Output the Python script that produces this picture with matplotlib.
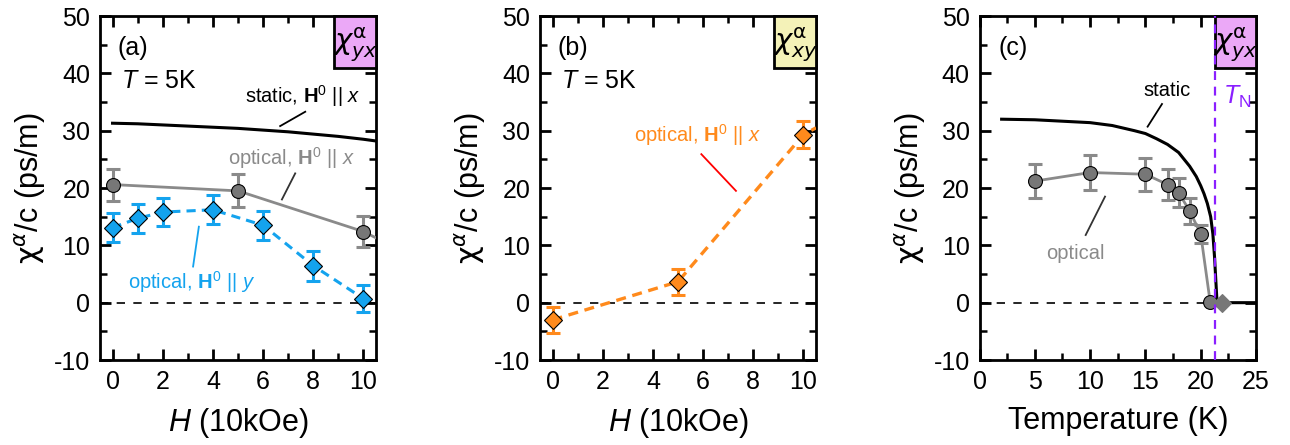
import matplotlib
matplotlib.use("Agg")
import matplotlib.pyplot as plt
from matplotlib.patches import Rectangle
from matplotlib.ticker import MultipleLocator

plt.rcParams['font.family'] = ['Liberation Sans', 'DejaVu Sans']
plt.rcParams['mathtext.fontset'] = 'custom'
plt.rcParams['mathtext.rm'] = 'Liberation Sans'
plt.rcParams['mathtext.it'] = 'Liberation Sans:italic'
plt.rcParams['mathtext.bf'] = 'Liberation Sans:bold'
plt.rcParams['axes.unicode_minus'] = False

# ---------------- data ----------------
# panel (a)
a_static_H = [0, 1, 2, 3, 4, 5, 6, 7, 8, 9, 10, 10.5]
a_static_chi = [31.3, 31.2, 31.0, 30.8, 30.6, 30.4, 30.1, 29.8, 29.4, 29.0, 28.5, 28.2]
a_optx_H = [0, 5, 10]
a_optx_chi = [20.6, 19.5, 12.4]
a_optx_err = [2.8, 2.9, 2.7]
a_optx_line_H = [0, 5, 10, 10.5]
a_optx_line_chi = [20.6, 19.5, 12.4, 11.3]
a_opty_H = [0, 1, 2, 4, 6, 8, 10]
a_opty_chi = [13.1, 14.7, 15.8, 16.2, 13.5, 6.45, 0.7]
a_opty_err = [2.6, 2.5, 2.5, 2.5, 2.5, 2.6, 2.4]

# panel (b)
b_optx_H = [0, 5, 10]
b_optx_chi = [-3.0, 3.65, 29.3]
b_optx_err = [2.3, 2.3, 2.3]
b_line_H = [0, 5, 10, 10.5]
b_line_chi = [-3.0, 3.65, 29.3, 30.5]

# panel (c)
c_static_T = [2, 5, 8, 10, 12, 14, 15, 16, 17, 18, 19, 19.6, 20, 20.3, 20.6, 20.9, 21.1,
              21.25, 21.35, 21.45, 21.5, 22, 25]
c_static_chi = [32.0, 31.9, 31.6, 31.4, 30.9, 30.0, 29.5, 28.6, 27.6, 26.2, 23.8, 22.0, 20.4,
                19.0, 17.3, 15.0, 12.0, 8.0, 4.5, 1.0, 0.0, 0.0, 0.0]
c_opt_T = [5, 10, 15, 17, 18, 19, 20, 20.85]
c_opt_chi = [21.2, 22.7, 22.4, 20.6, 19.2, 16.0, 12.0, 0.2]
c_opt_err = [2.9, 3.0, 2.9, 2.7, 2.5, 2.2, 1.6, 0.0]
c_above_T = [21.9]
c_above_chi = [-0.1]
T_N = 21.25

x_ticks_H = [0, 2, 4, 6, 8, 10]
y_ticks = [-10, 0, 10, 20, 30, 40, 50]

# ---------------- style ----------------
BLUE = '#14A3EE'
ORANGE = '#FF8A1C'
GRAY_M = '#777777'
GRAY_L = '#8A8A8A'
PINK = '#EBA8F7'
YELLOW = '#F4F2B8'
PURPLE = '#8A1FFF'

fig = plt.figure(figsize=(12.9, 4.45), dpi=100)
W, Hh = 1290, 445
def axpos(l, r):
    return [l / W, (Hh - 360) / Hh, (r - l) / W, 344 / Hh]

axA = fig.add_axes(axpos(100, 376))
axB = fig.add_axes(axpos(540, 816))
axC = fig.add_axes(axpos(979.5, 1256))

def style(ax, xmaj, xmin):
    ax.set_ylim(-10, 50)
    ax.set_yticks(y_ticks)
    ax.yaxis.set_minor_locator(MultipleLocator(5))
    ax.xaxis.set_major_locator(MultipleLocator(xmaj))
    ax.xaxis.set_minor_locator(MultipleLocator(xmin))
    ax.tick_params(which='both', direction='in', top=True, right=True, labelsize=18, pad=7)
    ax.tick_params(which='major', length=8, width=2.0)
    ax.tick_params(which='minor', length=5, width=1.8)
    for s in ax.spines.values():
        s.set_linewidth(2.0)
    ax.axhline(0, color='black', lw=1.2, dashes=(5, 5), zorder=1)
    ax.set_ylabel(r'$\mathrm{\chi}^{\alpha}$/c (ps/m)', fontsize=22, labelpad=4,
                  math_fontfamily='dejavusans')

def chibox(ax, x0, color, label):
    ax.add_patch(Rectangle((x0, 0.848), 1 - x0, 0.152, transform=ax.transAxes,
                           facecolor=color, edgecolor='black', lw=2.0, zorder=5, clip_on=False))
    ax.text((x0 + 1) / 2, 0.915, label, transform=ax.transAxes, ha='center', va='center',
            fontsize=21, zorder=6, math_fontfamily='dejavusans')

ebkw = dict(capsize=5, elinewidth=2.2, capthick=2.2)

# ---------------- panel (a) ----------------
style(axA, 2, 1)
axA.set_xlim(-0.5, 10.5)
axA.set_xticks(x_ticks_H)
axA.set_xlabel(r'$H$ (10kOe)', fontsize=22, labelpad=9)
axA.plot(a_static_H, a_static_chi, color='black', lw=2.2, zorder=3)
axA.plot(a_optx_line_H, a_optx_line_chi, color=GRAY_L, lw=2.0, zorder=3)
axA.errorbar(a_optx_H, a_optx_chi, yerr=a_optx_err, fmt='none', ecolor=GRAY_L, zorder=3, **ebkw)
axA.plot(a_optx_H, a_optx_chi, 'o', ms=10, mfc=GRAY_M, mec='black', mew=0.8, zorder=4)
axA.plot(a_opty_H, a_opty_chi, color=BLUE, lw=2.2, dashes=(3, 2), zorder=3)
axA.errorbar(a_opty_H, a_opty_chi, yerr=a_opty_err, fmt='none', ecolor=BLUE, zorder=3, **ebkw)
axA.plot(a_opty_H, a_opty_chi, 'D', ms=9, mfc=BLUE, mec='black', mew=0.8, zorder=4)
axA.text(0.2, 44.4, '(a)', fontsize=18, va='center')
axA.text(0.35, 38.7, r'$T$ = 5K', fontsize=18, va='center')
axA.text(5.28, 36.1, r'static, $\mathbf{H}^0$ || $x$', fontsize=14.5, va='center')
axA.plot([7.68, 6.68], [33.3, 30.8], color='black', lw=1.3)
axA.text(4.61, 25.2, r'optical, $\mathbf{H}^0$ || $x$', fontsize=14.5, va='center', color=GRAY_L)
axA.plot([7.28, 6.75], [22.55, 18.0], color='#333333', lw=1.3)
axA.text(0.61, 3.65, r'optical, $\mathbf{H}^0$ || $y$', fontsize=14.5, va='center', color=BLUE)
axA.plot([3.44, 3.21], [13.25, 6.3], color=BLUE, lw=1.3)
chibox(axA, 0.848, PINK, r'$\chi^{\mathrm{\alpha}}_{yx}$')

# ---------------- panel (b) ----------------
style(axB, 2, 1)
axB.set_xlim(-0.5, 10.5)
axB.set_xticks(x_ticks_H)
axB.set_xlabel(r'$H$ (10kOe)', fontsize=22, labelpad=9)
axB.plot(b_line_H, b_line_chi, color=ORANGE, lw=2.4, dashes=(3, 2), zorder=3)
axB.errorbar(b_optx_H, b_optx_chi, yerr=b_optx_err, fmt='none', ecolor=ORANGE, zorder=3, **ebkw)
axB.plot(b_optx_H, b_optx_chi, 'D', ms=9, mfc=ORANGE, mec='black', mew=0.8, zorder=4)
axB.text(0.2, 44.4, '(b)', fontsize=18, va='center')
axB.text(0.33, 38.7, r'$T$ = 5K', fontsize=18, va='center')
axB.text(3.23, 29.2, r'optical, $\mathbf{H}^0$ || $x$', fontsize=14.5, va='center', color=ORANGE)
axB.plot([5.93, 7.31], [25.9, 19.5], color='red', lw=1.3)
chibox(axB, 0.849, YELLOW, r'$\chi^{\mathrm{\alpha}}_{xy}$')

# ---------------- panel (c) ----------------
style(axC, 5, 2.5)
axC.set_xlim(0, 25)
axC.set_xlabel('Temperature (K)', fontsize=22, labelpad=9)
axC.plot(c_static_T, c_static_chi, color='black', lw=2.2, zorder=3)
axC.plot(c_opt_T + c_above_T, c_opt_chi + c_above_chi, color=GRAY_L, lw=2.0, zorder=3)
axC.errorbar(c_opt_T[:-1], c_opt_chi[:-1], yerr=c_opt_err[:-1], fmt='none', ecolor=GRAY_L,
             zorder=3, **ebkw)
axC.plot(c_opt_T, c_opt_chi, 'o', ms=10, mfc=GRAY_M, mec='black', mew=0.8, zorder=4)
axC.plot(c_above_T, c_above_chi, 'D', ms=9, mfc=GRAY_M, mec=GRAY_M, mew=0.8, zorder=4)
axC.axvline(T_N, color=PURPLE, lw=1.6, dashes=(4, 3), zorder=7)
axC.text(1.7, 44.4, '(c)', fontsize=18, va='center')
axC.text(14.8, 37.0, 'static', fontsize=14.5, va='center')
axC.plot([16.5, 15.2], [34.65, 30.7], color='black', lw=1.3)
axC.text(6.0, 8.6, 'optical', fontsize=14.5, va='center', color=GRAY_L)
axC.plot([11.35, 9.6], [18.5, 11.8], color='#333333', lw=1.3)
axC.text(22.0, 35.9, r'$T_{\mathrm{N}}$', fontsize=18, va='center', color=PURPLE)
x0c = T_N / 25
chibox(axC, x0c, PINK, r'$\chi^{\mathrm{\alpha}}_{yx}$')

fig.savefig('out.png', dpi=100)
